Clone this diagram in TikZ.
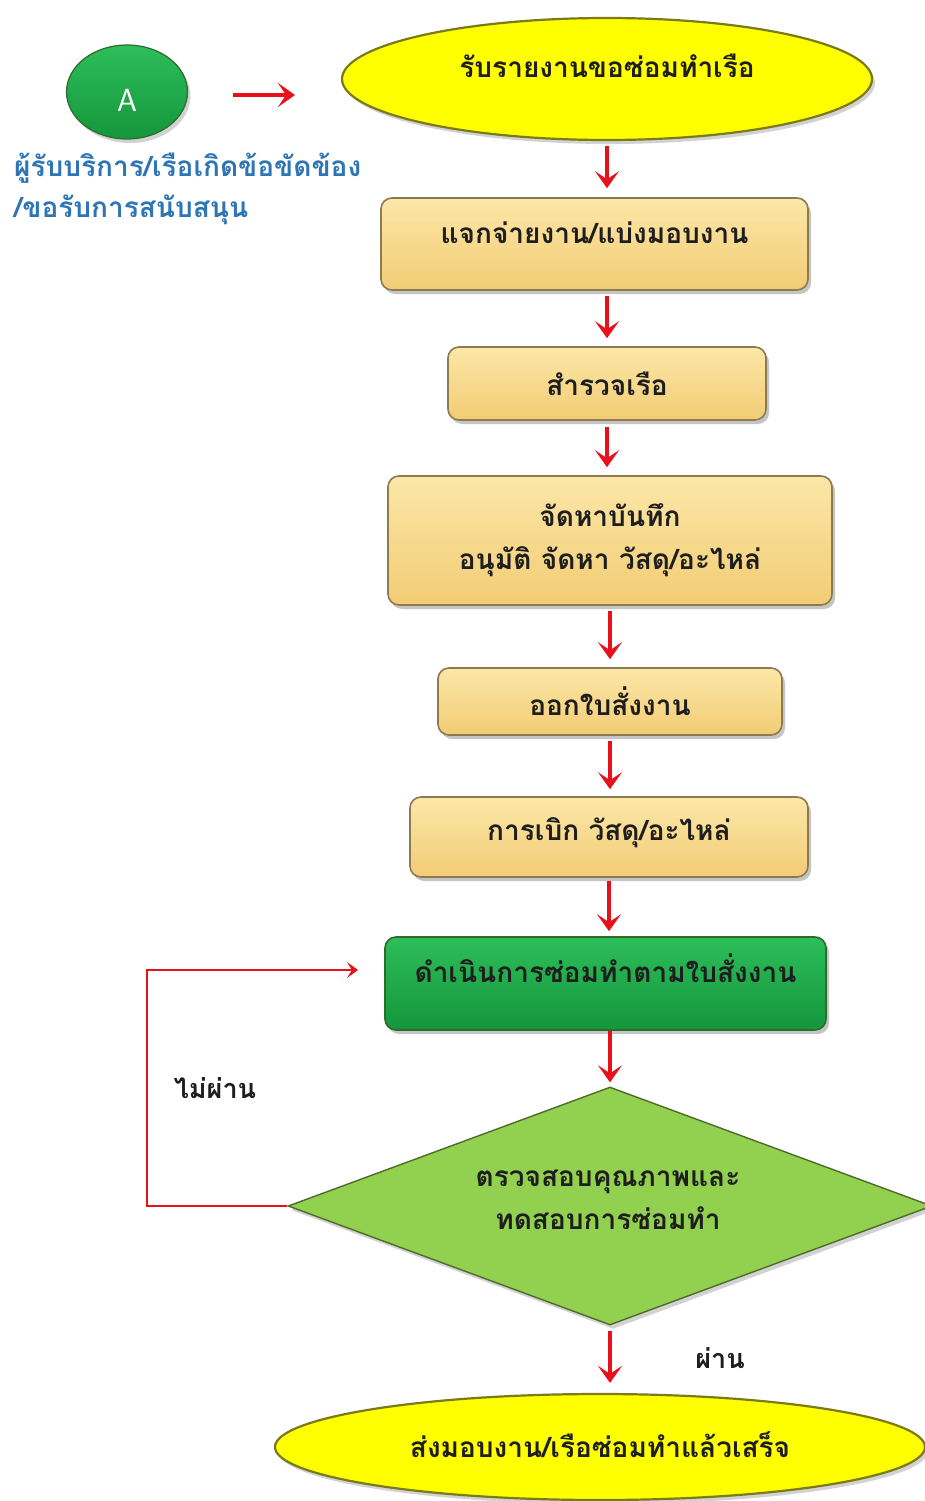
\documentclass[tikz,border=0pt]{standalone}
\usepackage{fontspec}
\newfontfamily\thai[Script=Thai]{Loma}
\usetikzlibrary{shapes.geometric,arrows.meta,shadows}
\definecolor{boxtop}{HTML}{FCE7A8}
\definecolor{boxbot}{HTML}{F2CC74}
\definecolor{boxline}{HTML}{8C7A50}
\definecolor{greentop}{HTML}{2DBE5A}
\definecolor{greenbot}{HTML}{14963C}
\definecolor{greenline}{HTML}{2F6B2A}
\definecolor{diafill}{HTML}{92D050}
\definecolor{dialine}{HTML}{4F6B2A}
\definecolor{ellfill}{HTML}{FFFF00}
\definecolor{ellline}{HTML}{7A7A18}
\definecolor{arrred}{HTML}{E8101A}
\definecolor{bluetxt}{HTML}{2E75B6}
\definecolor{darktxt}{HTML}{1E1E1E}
\tikzset{
  thaitxt/.style={font=\thai\bfseries\fontsize{28}{43}\selectfont, text=darktxt},
  stepbox/.style={draw=boxline, line width=1.6pt, rounded corners=11pt,
    top color=boxtop, bottom color=boxbot,
    drop shadow={shadow xshift=3pt, shadow yshift=-4pt, opacity=0.45},
    thaitxt, align=center, inner sep=0pt},
  greenbox/.style={draw=greenline, line width=1.6pt, rounded corners=11pt,
    top color=greentop, bottom color=greenbot,
    drop shadow={shadow xshift=3pt, shadow yshift=-4pt, opacity=0.45},
    inner sep=0pt},
  ellbox/.style={ellipse, draw=ellline, line width=2.2pt, fill=ellfill,
    drop shadow={shadow xshift=3pt, shadow yshift=-4pt, opacity=0.35},
    inner sep=0pt},
  diabox/.style={diamond, draw=dialine, line width=1.4pt, fill=diafill,
    drop shadow={shadow xshift=3pt, shadow yshift=-4pt, opacity=0.35},
    inner sep=0pt},
  arr/.style={draw=arrred, fill=arrred, line width=3.8pt, -{Stealth[length=17pt,width=24pt,inset=8pt]}},
  backarr/.style={draw=arrred, line width=1.8pt, -{Stealth[length=11pt,width=16pt,inset=5pt]}},
  lbl/.style={font=\thai\bfseries\fontsize{27}{30}\selectfont, text=darktxt},
  bluelbl/.style={anchor=west, font=\thai\bfseries\fontsize{28}{30}\selectfont, text=bluetxt, inner sep=0pt},
}
\begin{document}
\begin{tikzpicture}[x=1pt,y=-1pt]
\useasboundingbox (0,0) rectangle (925,1501);
\fill[white] (0,0) rectangle (925,1501);

% start circle A
\node[ellipse, minimum width=121pt, minimum height=94pt, draw=greenline, line width=1.2pt,
  top color=greentop, bottom color=greenbot,
  drop shadow={shadow xshift=3pt, shadow yshift=-4pt, opacity=0.35},
  inner sep=0pt] (A) at (127,92) {};
\node[text=white, font=\sffamily\fontsize{32}{32}\selectfont] (Atxt) at (127,100) {A};
\coordinate (a1) at (233,95);
\coordinate (a2) at (295,95);
\draw[arr] (a1) -- (a2);

\node[bluelbl] (cust1) at (14,168) {ผู้รับบริการ/เรือเกิดข้อขัดข้อง};
\node[bluelbl] (cust2) at (14,210) {/ขอรับการสนับสนุน};

% top ellipse
\node[ellbox, minimum width=530pt, minimum height=122pt] (e1) at (607,79) {};
\node[thaitxt] (e1t) at (607,66) {รับรายงานขอซ่อมทำเรือ};

% boxes
\node[stepbox, minimum width=427pt, minimum height=92pt, text height=20pt, text depth=22pt] (b1) at (594.5,244) {แจกจ่ายงาน/แบ่งมอบงาน};
\node[stepbox, minimum width=318pt, minimum height=73pt] (b2) at (607,383.5) {สำรวจเรือ};
\node[stepbox, minimum width=444pt, minimum height=129pt] (b3) at (610,540.5) {จัดหาบันทึก\\อนุมัติ จัดหา วัสดุ/อะไหล่};
\node[stepbox, minimum width=344pt, minimum height=67pt] (b4) at (610,701.5) {ออกใบสั่งงาน};
\node[stepbox, minimum width=398pt, minimum height=80pt, text height=20pt, text depth=14pt] (b5) at (609,837) {การเบิก วัสดุ/อะไหล่};
\node[greenbox, minimum width=441pt, minimum height=93pt] (g) at (605.5,983.5) {};
\node[thaitxt] (gt) at (605.5,968) {ดำเนินการซ่อมทำตามใบสั่งงาน};

% decision
\node[diabox, minimum width=644pt, minimum height=238pt] (d) at (610,1206) {};
\node[thaitxt, align=center] (dt) at (608,1200) {ตรวจสอบคุณภาพและ\\ทดสอบการซ่อมทำ};

% end ellipse
\node[ellbox, minimum width=650pt, minimum height=106pt] (e2) at (600,1447) {};
\node[thaitxt] (e2t) at (600,1445) {ส่งมอบงาน/เรือซ่อมทำแล้วเสร็จ};

% connectors
\draw[arr, shorten <=5pt, shorten >=9pt] (e1.south) -- (e1.south |- b1.north);
\draw[arr, shorten <=5pt, shorten >=8pt] (b2.north |- b1.south) -- (b2.north);
\draw[arr, shorten <=6pt, shorten >=8pt] (b2.south) -- (b2.south |- b3.north);
\draw[arr, shorten <=5pt, shorten >=8pt] (b4.north |- b3.south) -- (b4.north);
\draw[arr, shorten <=5pt, shorten >=7pt] (b4.south) -- (b4.south |- b5.north);
\draw[arr, shorten <=3pt, shorten >=5pt] (b5.south) -- (b5.south |- g.north);
\draw[arr, shorten <=0pt, shorten >=4pt] (d.north |- g.south) -- (d.north);
\draw[arr, shorten <=5pt, shorten >=10pt] (d.south) -- (d.south |- e2.north);

% loop back
\coordinate (lp) at (358,970);
\draw[backarr] (d.west) -- ++(-140,0) |- (lp);

\node[lbl] (fail) at (215,1088) {ไม่ผ่าน};
\node[lbl] (pass) at (720,1358) {ผ่าน};
\end{tikzpicture}
\end{document}
